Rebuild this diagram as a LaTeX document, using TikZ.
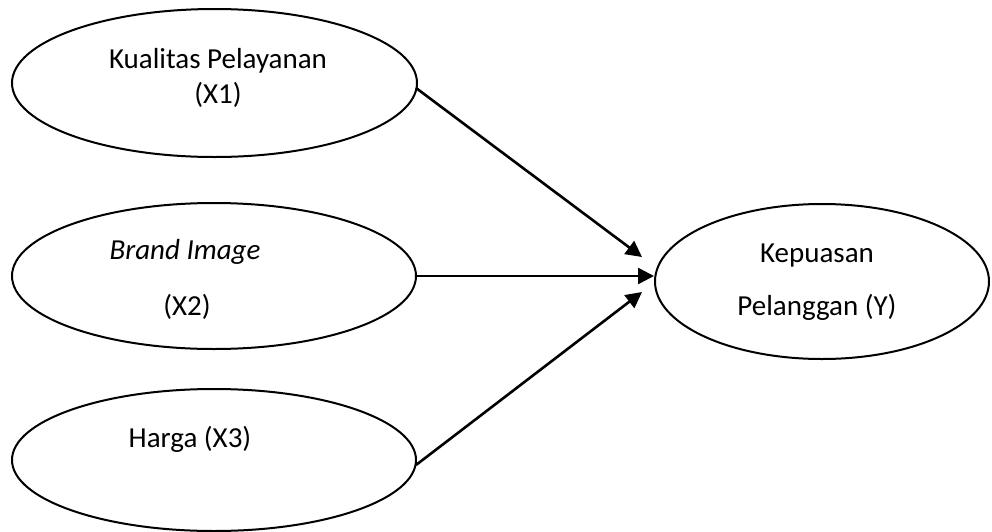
\documentclass[tikz,border=0pt]{standalone}
\usepackage{fontspec}
\setmainfont{Carlito}
\usetikzlibrary{shapes.geometric,arrows.meta}
\begin{document}
\begin{tikzpicture}[x=0.5pt,y=-0.5pt,
  oval/.style={draw,ellipse,line width=1pt,inner sep=0pt},
  lbl/.style={font=\fontsize{14.5}{17}\selectfont,inner sep=0pt,anchor=base},
  conn/.style={line width=1.3pt,-{Triangle[length=8pt,width=8pt]}}]
\useasboundingbox (0,0) rectangle (992,531);
\node[oval,minimum width=202.5pt,minimum height=74pt] (X1) at (214.5,83) {};
\node[oval,minimum width=202pt,minimum height=73pt] (X2) at (214,276) {};
\node[oval,minimum width=202pt,minimum height=71pt] (X3) at (214,460) {};
\node[oval,minimum width=167pt,minimum height=77.5pt] (Y) at (822,281.5) {};
\node[lbl] (l1a) at (218,68) {Kualitas Pelayanan};
\node[lbl] (l1b) at (218,103) {(X1)};
\node[lbl] (l2a) at (185,259) {\itshape Brand Image};
\node[lbl] (l2b) at (187,315) {(X2)};
\node[lbl] (l3) at (190,447) {Harga (X3)};
\node[lbl] (lya) at (817,262) {Kepuasan};
\node[lbl] (lyb) at (817,315) {Pelanggan (Y)};
\coordinate (t1) at (642,257);
\coordinate (t3) at (642,292);
\coordinate (s1) at (416,88);
\coordinate (s3) at (416,465);
\draw[conn] (s1) -- (t1);
\draw[conn] (X2.east) -- (X2.east -| Y.west);
\draw[conn] (s3) -- (t3);
\end{tikzpicture}
\end{document}
